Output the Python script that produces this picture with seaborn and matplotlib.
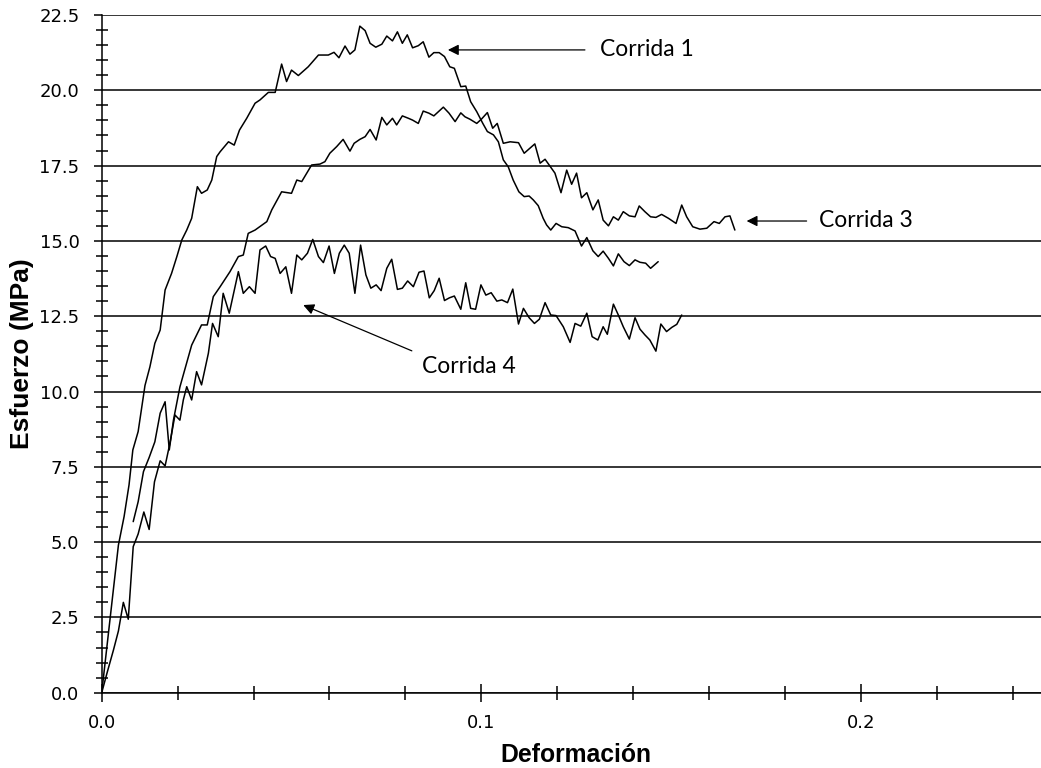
import matplotlib
matplotlib.use("Agg")
import matplotlib.pyplot as plt
import seaborn as sns
import pandas as pd
from matplotlib.ticker import MultipleLocator, FormatStrFormatter

# Stress-strain readings for each test run (strain, stress in MPa)
strain_1 = [
    0.0000, 0.0022, 0.0044, 0.0059, 0.0072, 0.0082, 0.0096, 0.0114, 0.0127, 0.0140,
    0.0154, 0.0167, 0.0184, 0.0198, 0.0211, 0.0224, 0.0237, 0.0252, 0.0263, 0.0278,
    0.0290, 0.0303, 0.0312, 0.0334, 0.0349, 0.0363, 0.0382, 0.0404, 0.0417, 0.0439,
    0.0457, 0.0474, 0.0487, 0.0500, 0.0518, 0.0544, 0.0571, 0.0597, 0.0612, 0.0625,
    0.0641, 0.0654, 0.0667, 0.0680, 0.0694, 0.0707, 0.0722, 0.0738, 0.0751, 0.0766,
    0.0779, 0.0792, 0.0805, 0.0819, 0.0834, 0.0847, 0.0862, 0.0875, 0.0889, 0.0903,
    0.0917, 0.0929, 0.0946, 0.0959, 0.0972, 0.0988, 0.1004, 0.1016, 0.1032, 0.1045,
    0.1058, 0.1071, 0.1084, 0.1099, 0.1113, 0.1126, 0.1137, 0.1150, 0.1163, 0.1172,
    0.1183, 0.1197, 0.1212, 0.1229, 0.1247, 0.1264, 0.1278, 0.1294, 0.1308, 0.1321,
    0.1335, 0.1348, 0.1361, 0.1376, 0.1390, 0.1405, 0.1418, 0.1433, 0.1446, 0.1466,
]
stress_1 = [
    0.00, 2.45, 4.90, 5.85, 6.90, 8.06, 8.67, 10.20, 10.82, 11.60,
    12.04, 13.37, 13.92, 14.48, 15.03, 15.36, 15.75, 16.80, 16.58, 16.69,
    17.02, 17.80, 17.96, 18.29, 18.18, 18.68, 19.07, 19.57, 19.68, 19.93,
    19.93, 20.87, 20.29, 20.67, 20.49, 20.78, 21.17, 21.17, 21.26, 21.08,
    21.47, 21.20, 21.34, 22.13, 21.98, 21.56, 21.43, 21.53, 21.80, 21.64,
    21.94, 21.56, 21.84, 21.41, 21.48, 21.61, 21.10, 21.25, 21.25, 21.12,
    20.78, 20.73, 20.12, 20.14, 19.62, 19.29, 18.90, 18.63, 18.52, 18.29,
    17.69, 17.46, 17.02, 16.63, 16.47, 16.49, 16.36, 16.17, 15.75, 15.53,
    15.36, 15.58, 15.47, 15.44, 15.33, 14.83, 15.11, 14.67, 14.48, 14.66,
    14.42, 14.17, 14.57, 14.31, 14.18, 14.37, 14.29, 14.26, 14.09, 14.31,
]

strain_3 = [
    0.0083, 0.0096, 0.0110, 0.0125, 0.0140, 0.0154, 0.0167, 0.0178, 0.0189, 0.0206,
    0.0237, 0.0263, 0.0278, 0.0294, 0.0312, 0.0338, 0.0360, 0.0373, 0.0386, 0.0404,
    0.0435, 0.0448, 0.0474, 0.0500, 0.0514, 0.0527, 0.0553, 0.0575, 0.0588, 0.0601,
    0.0619, 0.0636, 0.0654, 0.0665, 0.0680, 0.0694, 0.0707, 0.0723, 0.0738, 0.0751,
    0.0766, 0.0777, 0.0792, 0.0808, 0.0819, 0.0834, 0.0847, 0.0862, 0.0875, 0.0900,
    0.0915, 0.0931, 0.0946, 0.0957, 0.0970, 0.0988, 0.1001, 0.1016, 0.1030, 0.1042,
    0.1058, 0.1076, 0.1098, 0.1113, 0.1141, 0.1155, 0.1168, 0.1194, 0.1210, 0.1225,
    0.1238, 0.1251, 0.1264, 0.1278, 0.1294, 0.1308, 0.1321, 0.1335, 0.1348, 0.1361,
    0.1374, 0.1390, 0.1405, 0.1416, 0.1431, 0.1446, 0.1460, 0.1475, 0.1493, 0.1513,
    0.1528, 0.1541, 0.1557, 0.1576, 0.1594, 0.1613, 0.1627, 0.1642, 0.1655, 0.1668,
]
stress_3 = [
    5.68, 6.34, 7.34, 7.81, 8.33, 9.28, 9.66, 8.06, 9.05, 10.15,
    11.54, 12.21, 12.21, 13.15, 13.48, 13.98, 14.48, 14.53, 15.25, 15.36,
    15.64, 16.03, 16.63, 16.58, 17.02, 16.97, 17.52, 17.55, 17.63, 17.91,
    18.13, 18.37, 17.98, 18.24, 18.37, 18.46, 18.70, 18.35, 19.10, 18.85,
    19.07, 18.85, 19.15, 19.07, 19.01, 18.90, 19.31, 19.24, 19.15, 19.44,
    19.24, 18.96, 19.25, 19.12, 19.04, 18.90, 19.05, 19.26, 18.74, 18.90,
    18.24, 18.29, 18.26, 17.91, 18.22, 17.58, 17.71, 17.25, 16.60, 17.35,
    16.88, 17.25, 16.43, 16.60, 16.03, 16.36, 15.69, 15.50, 15.80, 15.69,
    15.97, 15.83, 15.80, 16.16, 15.97, 15.80, 15.78, 15.88, 15.75, 15.58,
    16.19, 15.80, 15.47, 15.39, 15.42, 15.64, 15.58, 15.80, 15.83, 15.36,
]

strain_4 = [
    0.0000, 0.0015, 0.0031, 0.0044, 0.0057, 0.0070, 0.0083, 0.0096, 0.0111, 0.0125,
    0.0139, 0.0154, 0.0167, 0.0180, 0.0193, 0.0206, 0.0215, 0.0224, 0.0237, 0.0250,
    0.0263, 0.0281, 0.0292, 0.0307, 0.0320, 0.0336, 0.0360, 0.0373, 0.0389, 0.0404,
    0.0417, 0.0432, 0.0445, 0.0457, 0.0470, 0.0485, 0.0500, 0.0514, 0.0527, 0.0542,
    0.0556, 0.0571, 0.0584, 0.0599, 0.0613, 0.0626, 0.0639, 0.0652, 0.0667, 0.0682,
    0.0696, 0.0709, 0.0723, 0.0736, 0.0751, 0.0764, 0.0779, 0.0792, 0.0806, 0.0821,
    0.0836, 0.0849, 0.0863, 0.0876, 0.0889, 0.0903, 0.0916, 0.0929, 0.0946, 0.0959,
    0.0972, 0.0985, 0.0999, 0.1012, 0.1026, 0.1041, 0.1054, 0.1069, 0.1083, 0.1098,
    0.1111, 0.1126, 0.1140, 0.1153, 0.1168, 0.1183, 0.1197, 0.1216, 0.1234, 0.1247,
    0.1262, 0.1278, 0.1292, 0.1307, 0.1321, 0.1332, 0.1348, 0.1361, 0.1374, 0.1390,
    0.1405, 0.1418, 0.1431, 0.1444, 0.1460, 0.1473, 0.1488, 0.1502, 0.1515, 0.1528,
]
stress_4 = [
    0.00, 0.70, 1.42, 2.05, 3.00, 2.44, 4.85, 5.27, 6.00, 5.42,
    7.00, 7.70, 7.53, 8.30, 9.22, 9.05, 9.72, 10.16, 9.72, 10.66,
    10.22, 11.27, 12.26, 11.82, 13.26, 12.60, 13.98, 13.26, 13.48, 13.26,
    14.70, 14.83, 14.48, 14.42, 13.92, 14.14, 13.26, 14.53, 14.37, 14.59,
    15.05, 14.48, 14.28, 14.83, 13.92, 14.59, 14.86, 14.59, 13.26, 14.86,
    13.87, 13.43, 13.54, 13.35, 14.09, 14.39, 13.39, 13.43, 13.67, 13.48,
    13.96, 14.00, 13.11, 13.35, 13.76, 13.02, 13.11, 13.17, 12.73, 13.61,
    12.76, 12.73, 13.54, 13.20, 13.28, 13.00, 13.04, 12.95, 13.40, 12.24,
    12.76, 12.45, 12.26, 12.40, 12.95, 12.54, 12.52, 12.15, 11.63, 12.26,
    12.17, 12.60, 11.82, 11.71, 12.15, 11.90, 12.90, 12.54, 12.15, 11.74,
    12.45, 12.07, 11.88, 11.71, 11.34, 12.24, 11.99, 12.13, 12.23, 12.54,
]

run_names = ["Corrida 1", "Corrida 3", "Corrida 4"]
x_label = "Deformación"
y_label = "Esfuerzo (MPa)"

frames = [
    pd.DataFrame({"strain": xs, "stress": ys, "run": name})
    for name, xs, ys in zip(run_names,
                            [strain_1, strain_3, strain_4],
                            [stress_1, stress_3, stress_4])
]
data = pd.concat(frames, ignore_index=True)

sns.set_theme(style="white")
plt.rcParams["font.family"] = ["DejaVu Sans"]
plt.rcParams["text.color"] = "black"

fig = plt.figure(figsize=(10.41, 7.68), dpi=100)
ax = fig.add_axes([0.0977, 0.098, 0.9116, 0.8825])

sns.lineplot(data=data, x="strain", y="stress", units="run", estimator=None,
             sort=False, color="black", linewidth=1.1, legend=False, ax=ax)

ax.set_xlim(0, 0.25)
ax.set_ylim(0, 22.5)

# Axis styling: only left/bottom spines, horizontal grid at the labelled stress values
for side in ("top", "right"):
    ax.spines[side].set_visible(False)
for side in ("left", "bottom"):
    ax.spines[side].set_color("black")
    ax.spines[side].set_linewidth(1.1)

ax.xaxis.set_major_locator(MultipleLocator(0.1))
ax.xaxis.set_minor_locator(MultipleLocator(0.02))
ax.yaxis.set_major_locator(MultipleLocator(2.5))
ax.yaxis.set_minor_locator(MultipleLocator(0.5))
ax.xaxis.set_major_formatter(FormatStrFormatter("%.1f"))
ax.yaxis.set_major_formatter(FormatStrFormatter("%.1f"))

ax.yaxis.grid(True, which="major", color="black", linewidth=1.1)
ax.xaxis.grid(False)
ax.set_axisbelow(True)

ax.tick_params(which="both", bottom=True, left=True, top=False, right=False)
ax.tick_params(axis="x", which="major", direction="inout", length=13, width=1.1,
               color="black", labelsize=13, pad=9, labelcolor="black")
ax.tick_params(axis="x", which="minor", direction="inout", length=10, width=1.1,
               color="black")
ax.tick_params(axis="y", which="major", direction="out", length=6, width=1.1,
               color="black", labelsize=13, pad=10, labelcolor="black")
ax.tick_params(axis="y", which="minor", direction="inout", length=9, width=1.1,
               color="black")

ax.set_xlabel(x_label, family=["Liberation Sans", "DejaVu Sans"], weight="bold",
              size=17.8, color="black")
ax.set_ylabel(y_label, family=["Liberation Sans", "DejaVu Sans"], weight="bold",
              size=19, color="black")
ax.xaxis.label.set_va("center")
ax.yaxis.label.set_va("center")
ax.xaxis.set_label_coords(0.5, -0.092)
ax.yaxis.set_label_coords(-0.0835, 0.5)

# Run labels with pointer arrows
note_font = dict(family=["Lato", "DejaVu Sans"], size=16.5, color="black")
arrow_style = dict(arrowstyle="-|>", color="black", lw=0.9, mutation_scale=16,
                   shrinkA=0, shrinkB=0)
notes = [
    # (text, text_xy, arrow_tail, arrow_head)
    (run_names[0], (0.1313, 21.34), (0.1273, 21.34), (0.0912, 21.34)),
    (run_names[1], (0.1890, 15.69), (0.1857, 15.66), (0.1699, 15.66)),
    (run_names[2], (0.0843, 10.82), (0.0817, 11.35), (0.0531, 12.87)),
]
for text, txy, tail, head in notes:
    ax.annotate("", xy=head, xytext=tail, arrowprops=arrow_style)
    ax.text(txy[0], txy[1], text, ha="left", va="center", **note_font)

fig.savefig("out.png", dpi=100)
